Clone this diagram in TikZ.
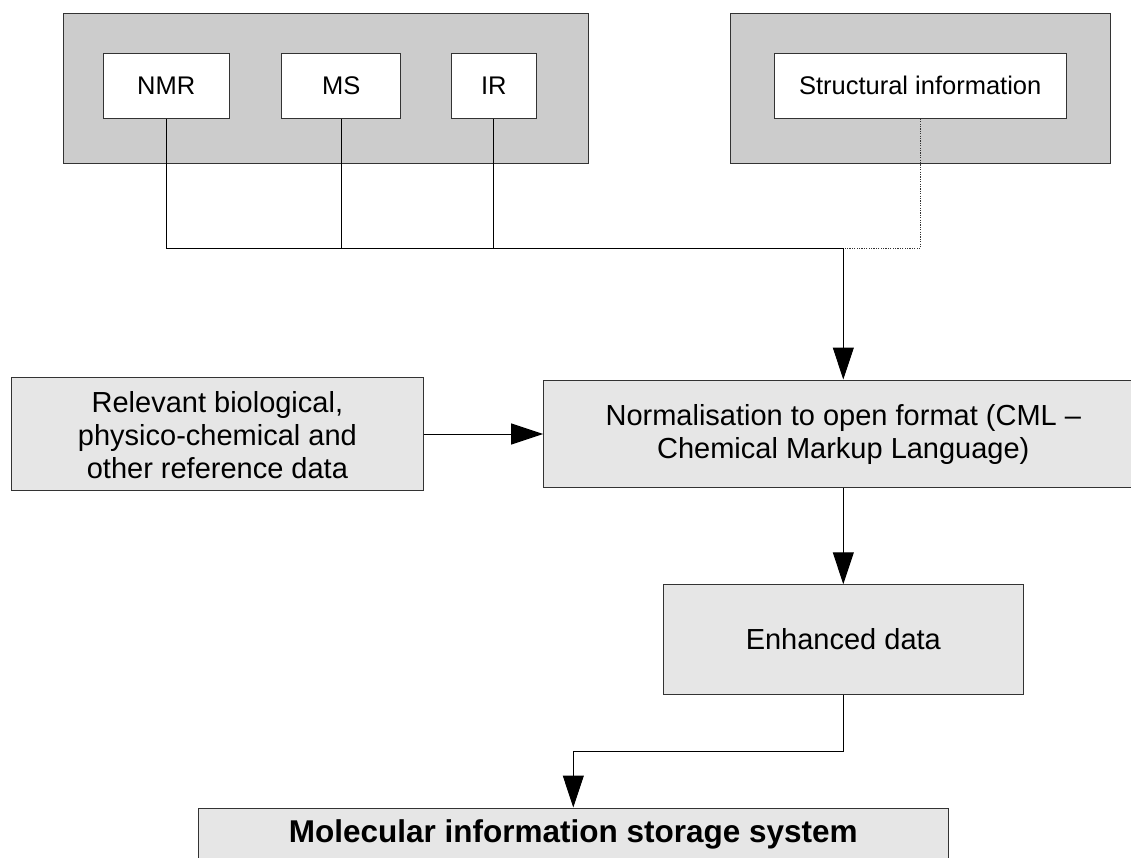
\documentclass[tikz,border=0pt]{standalone}
\usepackage{fontspec}
\setmainfont{Liberation Sans}
\usetikzlibrary{arrows.meta}

\definecolor{groupgray}{HTML}{CCCCCC}
\definecolor{boxgray}{HTML}{E6E6E6}
\definecolor{edge}{HTML}{333333}

\tikzset{
  group/.style={draw=edge, line width=1pt, fill=groupgray, rectangle, inner sep=0pt, minimum height=150pt},
  source/.style={draw=edge, line width=1pt, fill=white, rectangle, inner sep=0pt, minimum height=65pt,
                 font=\fontsize{25.5}{30}\selectfont},
  stage/.style={draw=edge, line width=1pt, fill=boxgray, rectangle, inner sep=0pt, align=center,
                font=\fontsize{29}{33}\selectfont},
  link/.style={draw=black, line width=1pt},
  flow/.style={link, -{Triangle[length=32pt,width=21pt]}},
  optional/.style={draw=black!80, line width=1pt, dash pattern=on 1.2pt off 1.2pt},
}

\begin{document}
\begin{tikzpicture}[x=1pt, y=-1pt]
  \useasboundingbox (0,0) rectangle (1131,858);
  \clip (0,0) rectangle (1131,858);

  % spectral data sources
  \node[group, minimum width=525pt] (specgroup) at (325.8,88.3) {};
  \node[source, minimum width=125.7pt] (nmr) at (166.2,85.8) {NMR};
  \node[source, minimum width=119.3pt] (ms) at (341.3,85.8) {MS};
  \node[source, minimum width=85pt] (ir) at (493.8,85.8) {IR};

  % structural source
  \node[group, minimum width=379.3pt] (structgroup) at (920.4,88.3) {};
  \node[source, minimum width=291.7pt] (struct) at (920.2,85.8) {Structural information};

  % processing stages
  \node[stage, minimum width=412pt, minimum height=112.6pt] (ref) at (217.4,434)
    {\strut Relevant biological,\\physico-chemical and\\other reference data};
  \node[stage, minimum width=599.4pt, minimum height=107.8pt] (norm) at (843.3,433.9)
    {\strut Normalisation to open format (CML –\\Chemical Markup Language)};
  \node[stage, minimum width=359.6pt, minimum height=109.3pt] (enh) at (843.3,639.4)
    {Enhanced data};
  \node[stage, minimum width=749.4pt, minimum height=52pt,
        font=\fontsize{31.5}{36}\selectfont\bfseries] (store) at (573.3,834)
    {Molecular information storage system};

  % collecting bus
  \coordinate (junc) at (843.3,248.3);
  \draw[link] (nmr.south) |- (junc);
  \draw[link] (ms.south) -- (ms.south |- junc);
  \draw[link] (ir.south) -- (ir.south |- junc);
  \draw[optional] (struct.south) |- (junc);
  \draw[flow] (junc) -- (norm.north);

  % main flow
  \draw[flow] (ref.east) -- (norm.west |- ref.east);
  \draw[flow] (norm.south) -- (enh.north);
  \draw[flow] (enh.south) -- ++(0,57) -| (store.north);
\end{tikzpicture}
\end{document}
